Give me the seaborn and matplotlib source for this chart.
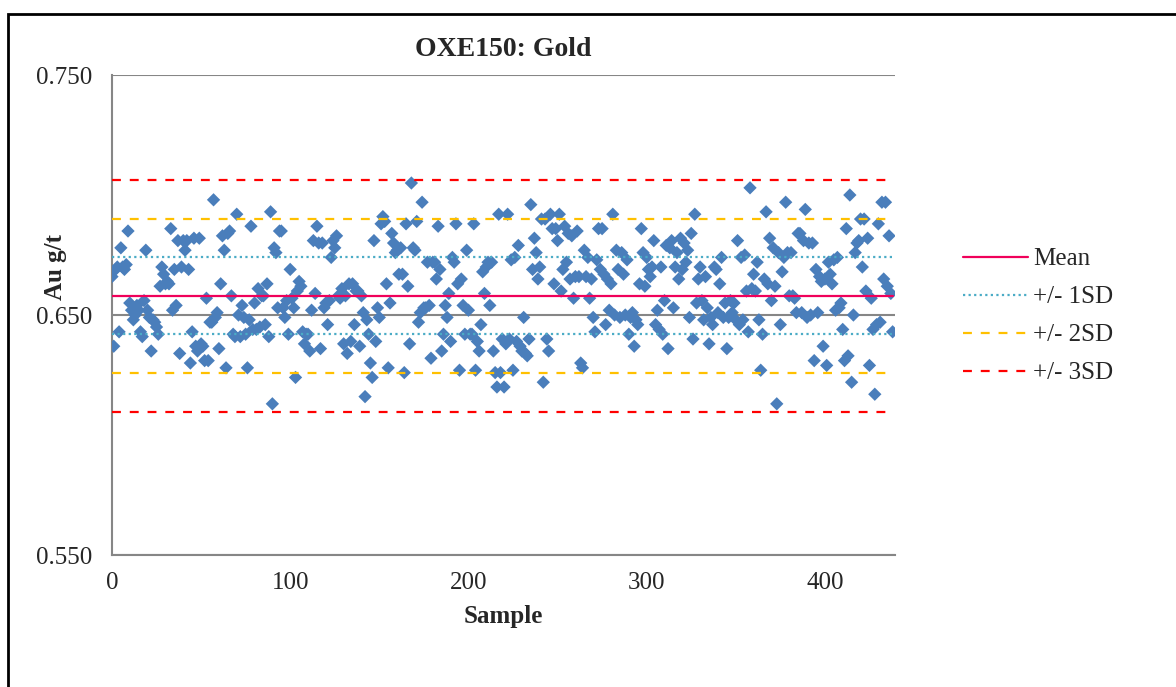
import matplotlib
matplotlib.use("Agg")
import matplotlib.pyplot as plt
import numpy as np
import pandas as pd
import seaborn as sns
from matplotlib.patches import Rectangle

# Au g/t values, one per sample (0..438)
au_0_49 = [0.666, 0.637, 0.669, 0.670, 0.643, 0.678, 0.670, 0.669, 0.671, 0.685,
           0.655, 0.652, 0.648, 0.650, 0.654, 0.652, 0.643, 0.641, 0.656, 0.677,
           0.652, 0.649, 0.635, 0.648, 0.647, 0.645, 0.642, 0.662, 0.670, 0.667,
           0.663, 0.664, 0.663, 0.686, 0.652, 0.669, 0.654, 0.681, 0.634, 0.670,
           0.681, 0.677, 0.681, 0.669, 0.630, 0.643, 0.682, 0.637, 0.635, 0.682]
au_50_105 = [0.638, 0.637, 0.631, 0.657, 0.631, 0.647, 0.647, 0.698, 0.649, 0.651,
             0.636, 0.663, 0.683, 0.677, 0.628, 0.684, 0.685, 0.658, 0.642, 0.641,
             0.692, 0.650, 0.641, 0.654, 0.649, 0.642, 0.628, 0.648, 0.687, 0.644,
             0.655, 0.644, 0.661, 0.645, 0.658, 0.658, 0.646, 0.663, 0.641, 0.693,
             0.613, 0.678, 0.676, 0.653, 0.685, 0.685, 0.653, 0.649, 0.656, 0.642,
             0.669, 0.657, 0.653, 0.624, 0.660, 0.664]
au_106_161 = [0.662, 0.643, 0.638, 0.642, 0.642, 0.635, 0.652, 0.681, 0.659, 0.687,
              0.680, 0.636, 0.680, 0.653, 0.655, 0.646, 0.656, 0.674, 0.681, 0.678,
              0.683, 0.658, 0.657, 0.661, 0.638, 0.658, 0.634, 0.663, 0.639, 0.663,
              0.646, 0.660, 0.660, 0.637, 0.658, 0.651, 0.616, 0.648, 0.642, 0.630,
              0.624, 0.681, 0.639, 0.653, 0.649, 0.688, 0.691, 0.689, 0.663, 0.628,
              0.655, 0.684, 0.680, 0.676, 0.677, 0.667]
au_162_217 = [0.678, 0.667, 0.626, 0.688, 0.662, 0.638, 0.705, 0.678, 0.677, 0.689,
              0.647, 0.651, 0.697, 0.653, 0.653, 0.672, 0.654, 0.632, 0.672, 0.672,
              0.665, 0.687, 0.669, 0.635, 0.642, 0.654, 0.649, 0.659, 0.639, 0.674,
              0.672, 0.688, 0.663, 0.627, 0.665, 0.654, 0.642, 0.677, 0.652, 0.642,
              0.642, 0.688, 0.627, 0.639, 0.635, 0.646, 0.668, 0.659, 0.670, 0.672,
              0.654, 0.672, 0.635, 0.626, 0.620, 0.692]
au_218_273 = [0.626, 0.640, 0.620, 0.638, 0.692, 0.640, 0.673, 0.627, 0.674, 0.639,
              0.679, 0.637, 0.635, 0.649, 0.634, 0.633, 0.640, 0.696, 0.669, 0.682,
              0.676, 0.665, 0.670, 0.690, 0.622, 0.690, 0.640, 0.635, 0.692, 0.686,
              0.663, 0.686, 0.681, 0.692, 0.660, 0.669, 0.687, 0.672, 0.684, 0.665,
              0.683, 0.657, 0.666, 0.685, 0.666, 0.630, 0.628, 0.677, 0.666, 0.674,
              0.657, 0.665, 0.649, 0.643, 0.673, 0.686]
au_274_329 = [0.669, 0.686, 0.667, 0.646, 0.665, 0.652, 0.663, 0.692, 0.650, 0.677,
              0.669, 0.649, 0.676, 0.667, 0.650, 0.673, 0.642, 0.649, 0.651, 0.637,
              0.648, 0.646, 0.663, 0.686, 0.676, 0.662, 0.674, 0.669, 0.666, 0.670,
              0.681, 0.646, 0.652, 0.644, 0.670, 0.642, 0.656, 0.679, 0.636, 0.678,
              0.681, 0.653, 0.670, 0.676, 0.665, 0.682, 0.669, 0.680, 0.672, 0.677,
              0.649, 0.684, 0.640, 0.692, 0.655, 0.665]
au_330_385 = [0.670, 0.656, 0.648, 0.666, 0.653, 0.638, 0.649, 0.646, 0.670, 0.669,
              0.651, 0.663, 0.674, 0.649, 0.655, 0.636, 0.649, 0.656, 0.651, 0.655,
              0.648, 0.681, 0.646, 0.674, 0.648, 0.675, 0.660, 0.643, 0.703, 0.661,
              0.667, 0.660, 0.672, 0.648, 0.627, 0.642, 0.665, 0.693, 0.663, 0.682,
              0.656, 0.678, 0.662, 0.613, 0.676, 0.646, 0.668, 0.674, 0.697, 0.676,
              0.658, 0.676, 0.658, 0.657, 0.651, 0.684]
au_386_438 = [0.684, 0.651, 0.681, 0.694, 0.649, 0.680, 0.650, 0.680, 0.631, 0.669,
              0.651, 0.666, 0.664, 0.637, 0.665, 0.629, 0.672, 0.667, 0.663, 0.673,
              0.652, 0.674, 0.653, 0.655, 0.644, 0.631, 0.686, 0.633, 0.700, 0.622,
              0.650, 0.676, 0.680, 0.681, 0.690, 0.670, 0.690, 0.660, 0.682, 0.629,
              0.657, 0.644, 0.617, 0.646, 0.688, 0.647, 0.697, 0.665, 0.697, 0.662,
              0.683, 0.659, 0.643]

au = au_0_49 + au_50_105 + au_106_161 + au_162_217 + au_218_273 + au_274_329 + au_330_385 + au_386_438
sample = list(range(len(au)))

# control limits
mean_val = 0.658
sd_val = 0.0161

df = pd.DataFrame({"Sample": sample, "Au": au})

sns.set_style("white")
plt.rcParams['font.family'] = ['Liberation Serif', 'DejaVu Serif']

fig = plt.figure(figsize=(11.76, 6.87), dpi=100)
ax = fig.add_axes([0.0952, 0.1921, 0.6658, 0.6987])

grid_col = '#868686'
for yv in [0.55, 0.65, 0.75]:
    ax.axhline(yv, color=grid_col, lw=1.5, zorder=0)

sns.scatterplot(data=df, x="Sample", y="Au", marker='D', s=46, color='#4A7EBB',
                edgecolor='none', ax=ax, zorder=3, legend=False)

x0, x1 = sample[0], sample[-1]
ax.plot([x0, x1], [mean_val, mean_val], color='#F0005A', lw=1.6, label='Mean', zorder=4)
ax.plot([x0, x1], [mean_val + sd_val] * 2, color='#4BACC6', lw=1.6, ls=(0, (1, 1.5)), label='+/- 1SD', zorder=4)
ax.plot([x0, x1], [mean_val - sd_val] * 2, color='#4BACC6', lw=1.6, ls=(0, (1, 1.5)), zorder=4)
ax.plot([x0, x1], [mean_val + 2 * sd_val] * 2, color='#FFC000', lw=1.6, ls=(0, (4, 4)), label='+/- 2SD', zorder=4)
ax.plot([x0, x1], [mean_val - 2 * sd_val] * 2, color='#FFC000', lw=1.6, ls=(0, (4, 4)), zorder=4)
ax.plot([x0, x1], [mean_val + 3 * sd_val] * 2, color='#FF0000', lw=1.6, ls=(0, (4, 4)), label='+/- 3SD', zorder=4)
ax.plot([x0, x1], [mean_val - 3 * sd_val] * 2, color='#FF0000', lw=1.6, ls=(0, (4, 4)), zorder=4)

ax.set_xlim(0, 439.3)
ax.set_ylim(0.55, 0.75)
ax.set_xticks([0, 100, 200, 300, 400])
ax.set_yticks([0.55, 0.65, 0.75])
ax.set_yticklabels(['0.550', '0.650', '0.750'])
ax.tick_params(axis='x', direction='out', length=6, width=1.5, color=grid_col, labelsize=18, pad=6)
ax.tick_params(axis='y', length=0, labelsize=18, pad=14)

for side in ['top', 'right']:
    ax.spines[side].set_visible(False)
for side in ['left', 'bottom']:
    ax.spines[side].set_color(grid_col)
    ax.spines[side].set_linewidth(1.5)

ax.set_title('OXE150: Gold', fontsize=20, fontweight='bold', pad=14)
ax.set_xlabel('Sample', fontsize=18, fontweight='bold', labelpad=8)
ax.set_ylabel('Au g/t', fontsize=18, fontweight='bold')
ax.yaxis.set_label_coords(-0.058, 0.60)

fig.legend(loc='center left', bbox_to_anchor=(0.8, 0.54), frameon=False, fontsize=18,
           handlelength=2.6, labelspacing=0.62, handletextpad=0.2)

# outer chart frame
fig.patches.append(Rectangle((8 / 1176, -0.1), 1.2, 1.1 - 14 / 687, transform=fig.transFigure,
                             fill=False, edgecolor='black', lw=2))

fig.savefig('out.png', dpi=100)
